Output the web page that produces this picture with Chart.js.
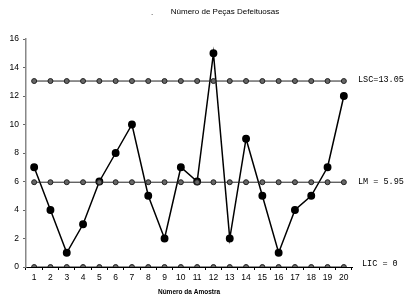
<!DOCTYPE html>
<html><head><meta charset="utf-8">
<script src="https://cdn.jsdelivr.net/npm/chart.js@4"></script>
<style>html,body{margin:0;padding:0;background:#fff}#w{width:411px;height:304px}</style>
</head><body><div id="w"><canvas id="c"></canvas></div>
<script>
const categories = ['1','2','3','4','5','6','7','8','9','10','11','12','13','14','15','16','17','18','19','20'];
const defects = [7,4,1,3,6,8,10,5,2,7,6,15,2,9,5,1,4,5,7,12];
const LSC = 13.05;
const LM = 5.95;
const LIC = 0;
const limitLabels = ['LSC=13.05','LM = 5.95','LIC = 0'];
const limitValues = [LSC, LM, LIC];
const title = 'Número de Peças Defeituosas';
const xTitle = 'Número da Amostra';

const flat = v => categories.map(() => v);

const textPlugin = {
  id: 'texts',
  afterDraw(chart) {
    const ctx = chart.ctx, y = chart.scales.y, a = chart.chartArea;
    ctx.save();
    ctx.fillStyle = '#000';
    ctx.font = '8px "Liberation Sans", Arial, sans-serif';
    ctx.textAlign = 'center';
    ctx.textBaseline = 'middle';
    ctx.fillText(title, 225, 12);
    ctx.fillText('.', 152, 13);
    ctx.font = '8.5px "Liberation Mono", "Courier New", monospace';
    ctx.textAlign = 'left';
    const offs = [-1, 0, -3];
    const xs = [6, 6, 10];
    limitLabels.forEach((t, i) => {
      ctx.fillText(t, a.right + xs[i], y.getPixelForValue(limitValues[i]) + offs[i]);
    });
    ctx.restore();
  }
};

const ctlStyle = {
  borderColor: '#222', borderWidth: 1, pointRadius: 2.5,
  pointBackgroundColor: '#666', pointBorderColor: '#222', pointBorderWidth: 1,
  fill: false, tension: 0
};

new Chart(document.getElementById('c'), {
  type: 'line',
  data: {
    labels: categories,
    datasets: [
      Object.assign({ data: flat(LSC) }, ctlStyle),
      Object.assign({ data: flat(LM) }, ctlStyle),
      Object.assign({ data: flat(LIC) }, ctlStyle),
      { data: defects, borderColor: '#000', borderWidth: 1.5, pointRadius: 3.2,
        pointBackgroundColor: '#000', pointBorderColor: '#000', fill: false, tension: 0 }
    ]
  },
  options: {
    responsive: true, maintainAspectRatio: false, animation: false,
    layout: { padding: { top: 39, right: 59, left: 0, bottom: 0 } },
    plugins: { legend: { display: false }, title: { display: false }, tooltip: { enabled: false } },
    scales: {
      x: {
        offset: true,
        grid: { display: true, drawOnChartArea: false, drawTicks: true, tickLength: 3, color: '#000', offset: true },
        border: { display: true, color: '#000', width: 1 },
        ticks: { color: '#000', font: { size: 8.5, family: '"Liberation Sans", Arial, sans-serif' }, padding: 3, maxRotation: 0, autoSkip: false },
        title: { display: true, text: xTitle, color: '#000', font: { size: 6.5, weight: 'bold', family: '"Liberation Sans", Arial, sans-serif' }, padding: { top: 0, bottom: 8 } },
        afterFit(s) { s.height = 37; }
      },
      y: {
        min: 0, max: 16,
        grid: { display: true, drawOnChartArea: false, drawTicks: true, tickLength: 3, color: '#666' },
        border: { display: true, color: '#888', width: 1.5 },
        ticks: { stepSize: 2, color: '#000', font: { size: 8.5, family: '"Liberation Sans", Arial, sans-serif' }, padding: 4 },
        afterFit(s) { s.width = 26; }
      }
    }
  },
  plugins: [textPlugin]
});
</script></body></html>
